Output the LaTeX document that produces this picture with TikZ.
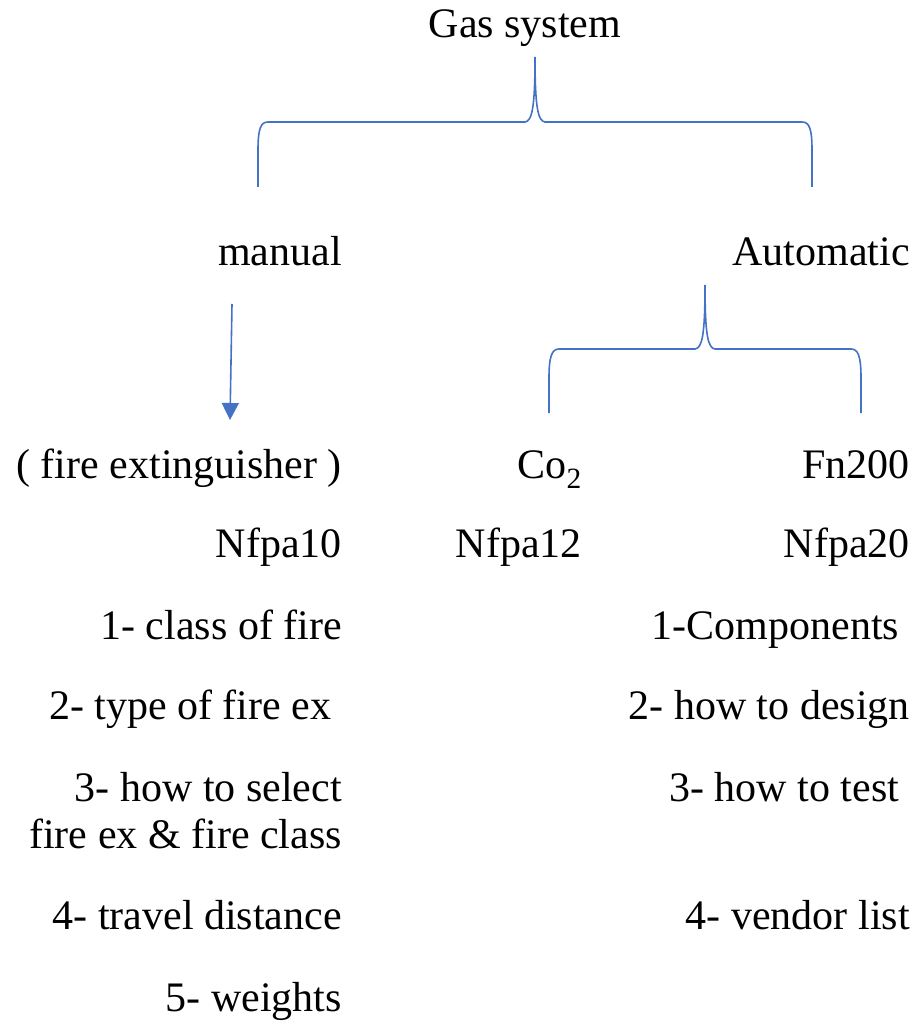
\documentclass[tikz,border=0pt]{standalone}
\usepackage{fontspec}
\setmainfont{Liberation Serif}
\usetikzlibrary{arrows.meta}
\definecolor{braceblue}{HTML}{4472C4}
\tikzset{
  item/.style={anchor=base east, inner sep=0pt, font=\fontsize{42}{48}\selectfont},
  brace/.style={draw=braceblue, line width=1.6pt},
}

\begin{document}
\begin{tikzpicture}[x=1pt,y=-1pt]
    \useasboundingbox (0,0) rectangle (921,1024);
    % top
    \node[item, anchor=base] (gas) at (525,38) {Gas system};
    \node[item] (manual) at (342,265) {manual};
    \node[item] (auto) at (910,265) {Automatic};
    % brace gas system
    \coordinate (gasTip) at (535,57);
    \coordinate (manEnd) at (258,187);
    \coordinate (autoEnd) at (812,187);
    \draw[brace] (manEnd) -- (258,150) .. controls (258,128) and (261,122) .. (268,122)
        -- (525,122) .. controls (532,121) and (535,108) .. (gasTip)
        .. controls (535,108) and (538,121) .. (545,122) -- (802,122)
        .. controls (809,122) and (812,128) .. (812,150) -- (autoEnd);
    % manual branch
    \coordinate (manTop) at (232,304);
    \coordinate (manBot) at (230,420);
    \draw[brace, -{Triangle[width=17pt,length=17pt]}] (manTop) -- (manBot);
    \node[item] (fireex) at (342,478) {( fire extinguisher )};
    \node[item] (nfpaten) at (342,557) {Nfpa10};
    \node[item] (classfire) at (342,639) {1- class of fire};
    \node[item] (typefire) at (342,719) {2- type of fire ex\ \mbox{}};
    \node[item] (select) at (342,801) {3- how to select};
    \node[item] (selecttwo) at (342,848) {fire ex \& fire class};
    \node[item] (travel) at (342,929) {4- travel distance};
    \node[item] (weights) at (342,1011) {5- weights};
    % brace automatic
    \coordinate (autoTip) at (705,285);
    \coordinate (coEnd) at (549,413);
    \coordinate (fnEnd) at (861,413);
    \draw[brace] (coEnd) -- (549,378) .. controls (549,356) and (552,349) .. (559,349)
        -- (695,349) .. controls (702,348) and (705,336) .. (autoTip)
        .. controls (705,336) and (708,348) .. (715,349) -- (851,349)
        .. controls (858,349) and (861,356) .. (861,378) -- (fnEnd);
    % automatic branch
    \node[item] (co) at (582,478) {Co\textsubscript{2}};
    \node[item] (fn) at (910,478) {Fn200};
    \node[item] (nfpatwelve) at (582,557) {Nfpa12};
    \node[item] (nfpatwenty) at (910,557) {Nfpa20};
    \node[item] (comp) at (910,639) {1-Components\ \mbox{}};
    \node[item] (design) at (910,719) {2- how to design};
    \node[item] (test) at (910,801) {3- how to test\ \mbox{}};
    \node[item] (vendor) at (910,929) {4- vendor list};
\end{tikzpicture}
\end{document}
